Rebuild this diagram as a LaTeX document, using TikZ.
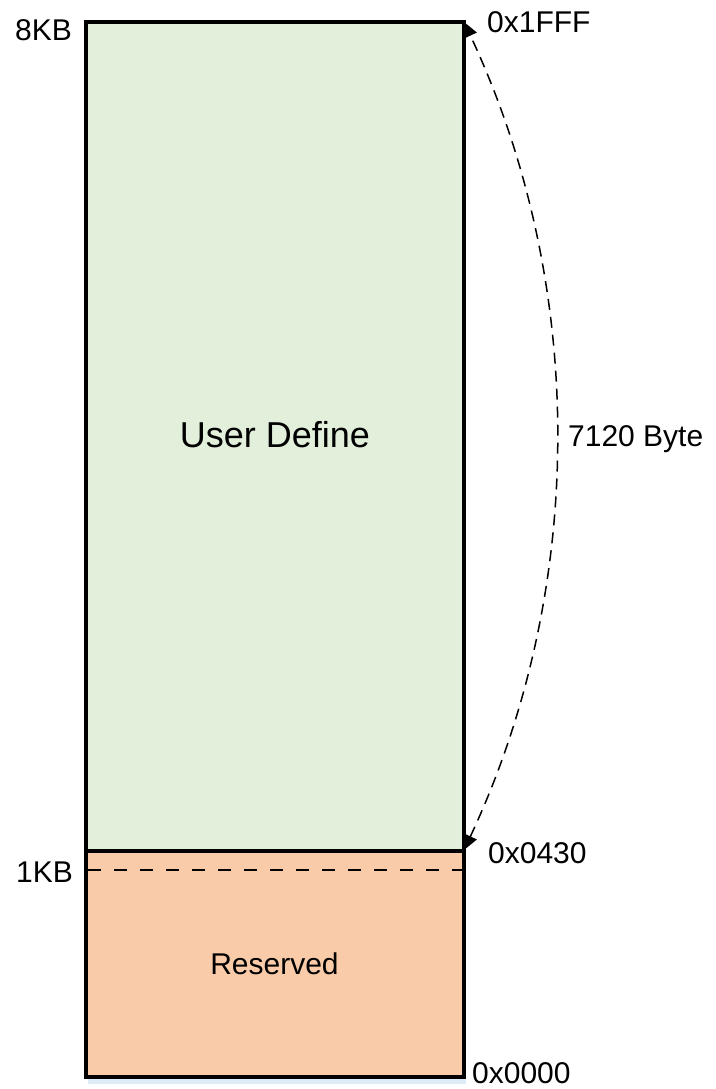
\documentclass[tikz,border=0pt]{standalone}
\usepackage{fontspec}
\setmainfont{Liberation Sans}
\usetikzlibrary{arrows.meta}

\definecolor{userfill}{HTML}{E2EFDA}
\definecolor{resfill}{HTML}{F9CBA8}
\definecolor{shadowblue}{HTML}{DDEBF7}

\begin{document}
\begin{tikzpicture}[x=1pt,y=-1pt,
  region/.style={draw=black,line width=4pt},
  lbl/.style={inner sep=0pt,font=\fontsize{30}{36}\selectfont},
  biglbl/.style={inner sep=0pt,font=\fontsize{36}{43}\selectfont},
  span/.style={line width=1.5pt,dash pattern=on 11pt off 7pt,
    {Triangle[length=15pt,width=14pt]}-{Triangle[length=15pt,width=14pt]}},
  boundary/.style={line width=1.5pt,dash pattern=on 13pt off 13pt}]
  \useasboundingbox (0,0) rectangle (715,1089);

  % thin shadow under the memory block
  \fill[shadowblue] (88,1079) rectangle (466,1084);

  % memory regions
  \filldraw[region,fill=resfill] (86,851) rectangle (463.5,1077);
  \filldraw[region,fill=userfill] (86,22) rectangle (463.5,851);

  % corner coordinates
  \coordinate (top) at (464,22);
  \coordinate (mid) at (464,850);
  \coordinate (kbL) at (88,870);
  \coordinate (kbR) at (462,870);

  % 1KB boundary inside the reserved area
  \draw[boundary] (kbL) -- (kbR);

  % region names
  \node[biglbl,anchor=base] (user) at (275,447) {User Define};
  \node[lbl,anchor=base] (res) at (274.5,974) {Reserved};

  % size marks on the left
  \node[lbl,anchor=base east] (k8) at (72,41) {8KB};
  \node[lbl,anchor=base east] (k1) at (73,882) {1KB};

  % addresses on the right
  \node[lbl,anchor=base west] (a1) at (487,33) {0x1FFF};
  \node[lbl,anchor=base west] (a2) at (488,863) {0x0430};
  \node[lbl,anchor=base west] (a3) at (472,1083.5) {0x0000};

  % span of the user area
  \draw[span] (mid) .. controls +(123,-262) and +(123,262) .. (top);
  \node[lbl,anchor=base west] (len) at (568,446) {7120 Byte};
\end{tikzpicture}
\end{document}
